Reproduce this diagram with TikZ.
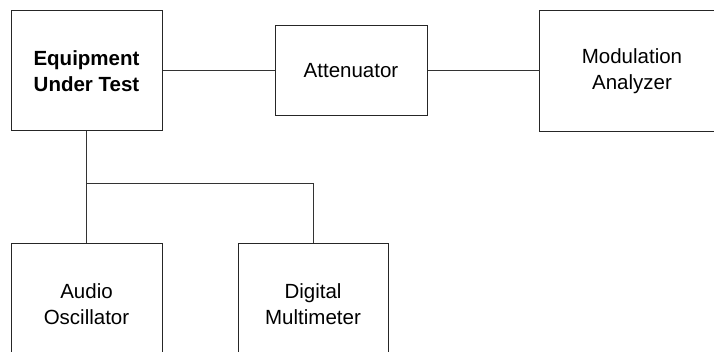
\documentclass[tikz,border=0pt]{standalone}
\usepackage{fontspec}
\setmainfont{Liberation Sans}
\begin{document}
\begin{tikzpicture}[x=1pt,y=-1pt,
  blk/.style={draw=black!85, line width=1pt, inner sep=0pt, align=center,
    font=\fontsize{20.5}{26.5}\selectfont},
  conn/.style={draw=black!80, line width=1pt}]
\useasboundingbox (0,0) rectangle (714,352);
\clip (0,0) rectangle (714,352);
\node[blk, minimum width=151pt, minimum height=120pt, font=\fontsize{20.5}{26.5}\selectfont\bfseries] (eut) at (86.5,71) {Equipment\\Under Test};
\node[blk, minimum width=152pt, minimum height=90pt] (att) at (351,71) {Attenuator};
\node[blk, draw=none, minimum width=184pt, minimum height=120pt] (mod) at (632,71) {Modulation\\Analyzer};
\draw[draw=black!85, line width=1pt] ([xshift=60pt]mod.north east) -- (mod.north west) -- (mod.south west) -- ([xshift=60pt]mod.south east);
\node[blk, minimum width=151pt, minimum height=120pt] (aud) at (86.5,304) {Audio\\Oscillator};
\node[blk, minimum width=150pt, minimum height=120pt] (dmm) at (313,304) {Digital\\Multimeter};
\coordinate (j) at (86.5,184);
\draw[conn] (eut.east) -- (att.west);
\draw[conn] (att.east) -- (mod.west);
\draw[conn] (eut.south) -- (aud.north);
\draw[conn] (j) -| (dmm.north);
\end{tikzpicture}
\end{document}
